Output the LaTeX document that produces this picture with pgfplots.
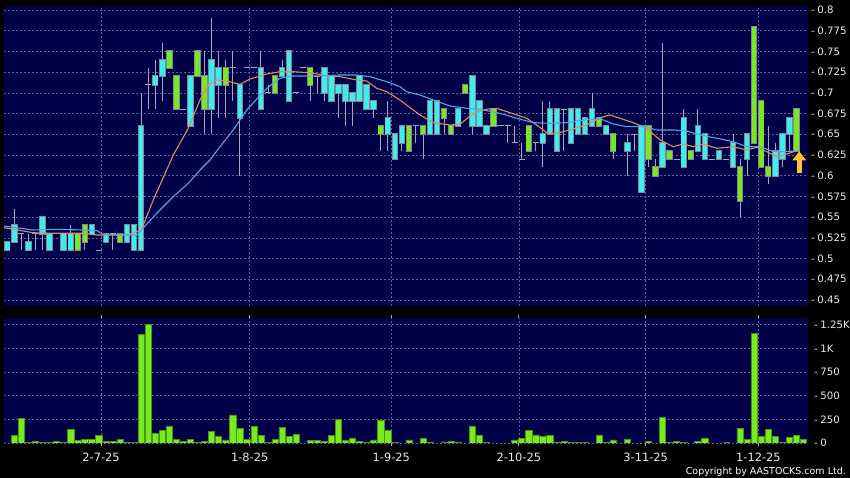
\documentclass[border=0pt]{standalone}
\usepackage{pgfplots}
\pgfplotsset{compat=1.18}
\usepackage{pgfplotstable}
\usepackage{fontspec}
\setmainfont{DejaVu Sans}
\usetikzlibrary{arrows.meta}

\definecolor{navy}{RGB}{0,0,72}
\definecolor{gridc}{RGB}{95,95,150}
\definecolor{cyanb}{RGB}{60,238,238}
\definecolor{greenb}{RGB}{120,232,32}
\definecolor{outl}{RGB}{130,135,150}
\definecolor{wick}{RGB}{165,165,180}
\definecolor{maor}{RGB}{225,140,95}
\definecolor{mabl}{RGB}{80,168,232}
\definecolor{volg}{RGB}{120,235,30}
\definecolor{volo}{RGB}{70,150,20}
\definecolor{arrowy}{RGB}{255,196,40}
\definecolor{lbl}{RGB}{235,235,235}
\definecolor{tickc}{RGB}{170,170,170}

\newcommand{\dl}[1]{-\hspace{2.5bp}#1}
\newcommand{\ylfont}{\fontsize{10.2bp}{12bp}\selectfont}
\newcommand{\xlfont}{\fontsize{11.4bp}{13bp}\selectfont}

% s = trading-day slot, o h l c = open high low close
\pgfplotstableread{
s o h l c
0 0.51 0.52 0.51 0.52
1 0.52 0.56 0.52 0.54
2 0.53 0.53 0.51 0.53
3 0.51 0.53 0.51 0.52
4 0.53 0.53 0.51 0.53
5 0.53 0.55 0.51 0.55
6 0.51 0.53 0.51 0.53
7 0.53 0.53 0.53 0.53
8 0.51 0.53 0.51 0.53
9 0.51 0.54 0.51 0.53
10 0.53 0.53 0.51 0.51
11 0.54 0.54 0.51 0.52
12 0.53 0.54 0.53 0.54
13 0.51 0.51 0.51 0.51
14 0.52 0.53 0.52 0.53
15 0.53 0.53 0.51 0.53
16 0.53 0.53 0.52 0.52
17 0.52 0.54 0.52 0.54
18 0.51 0.54 0.51 0.54
19 0.51 0.70 0.51 0.66
20 0.71 0.73 0.68 0.71
21 0.71 0.74 0.68 0.72
22 0.72 0.76 0.69 0.74
23 0.75 0.75 0.73 0.73
24 0.72 0.72 0.68 0.68
25 0.68 0.68 0.68 0.68
26 0.66 0.72 0.66 0.72
27 0.75 0.75 0.72 0.72
28 0.72 0.75 0.65 0.68
29 0.68 0.79 0.65 0.74
30 0.71 0.75 0.67 0.73
31 0.73 0.74 0.67 0.71
32 0.73 0.75 0.69 0.73
33 0.67 0.71 0.60 0.71
34 0.73 0.73 0.73 0.73
35 0.73 0.73 0.73 0.73
36 0.68 0.75 0.68 0.73
37 0.70 0.71 0.70 0.70
38 0.72 0.72 0.70 0.70
39 0.72 0.74 0.72 0.73
40 0.69 0.75 0.69 0.75
41 0.70 0.70 0.70 0.70
42 0.73 0.73 0.73 0.73
43 0.73 0.73 0.69 0.71
44 0.72 0.72 0.70 0.72
45 0.70 0.73 0.69 0.73
46 0.69 0.72 0.69 0.72
47 0.70 0.71 0.67 0.71
48 0.69 0.71 0.66 0.71
49 0.69 0.70 0.66 0.70
50 0.69 0.72 0.69 0.72
51 0.68 0.71 0.68 0.71
52 0.68 0.69 0.67 0.69
53 0.66 0.66 0.63 0.65
54 0.65 0.69 0.63 0.67
55 0.62 0.65 0.62 0.65
56 0.64 0.66 0.63 0.66
57 0.66 0.66 0.63 0.63
58 0.66 0.66 0.64 0.66
59 0.66 0.66 0.62 0.65
60 0.65 0.69 0.65 0.69
61 0.65 0.69 0.65 0.69
62 0.68 0.68 0.65 0.67
63 0.66 0.66 0.65 0.65
64 0.66 0.68 0.66 0.68
65 0.71 0.71 0.70 0.70
66 0.66 0.72 0.65 0.72
67 0.66 0.69 0.66 0.69
68 0.65 0.66 0.65 0.66
69 0.68 0.68 0.66 0.66
70 0.66 0.66 0.66 0.66
71 0.66 0.66 0.64 0.66
72 0.64 0.66 0.64 0.64
73 0.62 0.64 0.62 0.62
74 0.66 0.66 0.63 0.63
75 0.64 0.64 0.63 0.64
76 0.64 0.69 0.61 0.65
77 0.65 0.69 0.65 0.68
78 0.63 0.68 0.63 0.68
79 0.68 0.68 0.63 0.68
80 0.64 0.68 0.64 0.68
81 0.65 0.68 0.65 0.68
82 0.65 0.67 0.65 0.67
83 0.66 0.70 0.66 0.68
84 0.67 0.67 0.66 0.66
85 0.65 0.66 0.65 0.66
86 0.65 0.65 0.62 0.63
88 0.63 0.65 0.60 0.64
89 0.65 0.65 0.63 0.65
90 0.58 0.66 0.58 0.66
91 0.66 0.66 0.61 0.62
92 0.61 0.62 0.60 0.60
93 0.61 0.76 0.61 0.64
94 0.63 0.63 0.62 0.62
95 0.62 0.62 0.62 0.62
96 0.61 0.68 0.61 0.67
97 0.63 0.63 0.62 0.62
98 0.63 0.68 0.63 0.66
99 0.62 0.65 0.62 0.65
100 0.62 0.62 0.62 0.62
101 0.62 0.63 0.62 0.63
102 0.62 0.62 0.62 0.62
103 0.61 0.65 0.61 0.64
104 0.61 0.62 0.55 0.57
105 0.62 0.65 0.60 0.65
106 0.78 0.78 0.64 0.64
107 0.69 0.69 0.61 0.61
108 0.61 0.66 0.59 0.60
109 0.60 0.64 0.60 0.63
110 0.62 0.65 0.61 0.65
111 0.65 0.67 0.63 0.67
112 0.68 0.68 0.63 0.63
}\candles

\pgfplotstableread{
s v
1 77
2 264
3 10
4 21
5 10
6 7
7 14
8 10
9 141
10 28
11 35
12 35
13 84
14 18
15 21
16 35
17 10
18 4
19 1151
20 1250
21 99
22 130
23 180
24 39
25 14
26 42
27 10
28 21
29 120
30 70
31 32
32 296
33 151
34 35
35 172
36 84
37 10
38 39
39 169
40 67
41 88
43 25
44 25
45 18
46 77
47 246
48 28
49 53
50 21
51 10
52 32
53 236
54 137
55 4
57 32
59 46
60 11
62 11
63 14
64 7
66 180
67 85
68 4
72 32
73 49
74 137
75 85
76 70
77 81
78 11
79 14
80 7
81 7
82 4
84 85
85 11
86 32
88 39
91 21
93 271
94 4
95 21
96 4
98 21
99 53
102 7
104 158
105 42
106 1155
107 67
108 144
109 70
110 4
111 60
112 77
113 35
}\vol

\pgfplotstableread{
s m
-0.47 0.5373
3.65 0.5312
7.05 0.5305
10.74 0.5305
12.73 0.5284
16.99 0.5284
19.02 0.5345
20.72 0.5707
23.56 0.6250
25.69 0.6572
27.35 0.6914
28.53 0.7095
29.72 0.7155
31.14 0.7143
33.03 0.7103
34.45 0.7167
36.82 0.7228
38.70 0.7255
40.59 0.7255
42.96 0.7243
44.85 0.7216
47.22 0.7195
49.59 0.7155
51.01 0.7143
52.43 0.7055
53.85 0.7014
55.73 0.6914
57.62 0.6793
58.57 0.6733
60.46 0.6640
62.83 0.6612
64.25 0.6621
66.14 0.6753
68.04 0.6802
69.46 0.6814
71.35 0.6760
73.72 0.6693
75.13 0.6612
76.55 0.6519
77.97 0.6512
79.86 0.6552
82.23 0.6612
84.12 0.6700
85.54 0.6733
86.96 0.6693
88.85 0.6640
90.75 0.6572
92.64 0.6431
94.52 0.6350
95.94 0.6383
97.36 0.6350
98.78 0.6383
100.68 0.6331
103.04 0.6350
104.94 0.6310
106.36 0.6343
107.78 0.6290
109.20 0.6230
110.62 0.6262
112.27 0.6310
}\mafive

\pgfplotstableread{
s m
-0.47 0.5393
3.65 0.5345
7.05 0.5353
10.74 0.5345
12.73 0.5337
13.58 0.5293
16.99 0.5284
18.40 0.5284
19.02 0.5345
21.20 0.5546
23.56 0.5747
25.69 0.5909
27.35 0.6069
28.77 0.6190
30.19 0.6350
32.07 0.6552
33.98 0.6793
36.82 0.7055
38.70 0.7176
40.59 0.7203
43.91 0.7203
47.22 0.7216
49.59 0.7216
51.47 0.7195
53.85 0.7135
55.73 0.7074
56.68 0.7014
58.57 0.6974
60.46 0.6914
62.83 0.6841
65.20 0.6814
67.56 0.6793
69.93 0.6753
72.30 0.6693
74.65 0.6640
77.02 0.6633
79.39 0.6640
81.75 0.6672
84.12 0.6688
86.01 0.6624
87.91 0.6592
90.27 0.6592
92.17 0.6552
94.52 0.6552
96.42 0.6540
98.31 0.6491
100.68 0.6452
103.04 0.6411
104.94 0.6350
106.83 0.6350
108.72 0.6290
110.62 0.6290
112.27 0.6302
}\maten

\begin{document}
\begin{tikzpicture}
\fill[black] (0,0) rectangle (850bp,478bp);

% ---------------- price panel ----------------
\begin{axis}[
  at={(4bp,172bp)}, anchor=south west, scale only axis,
  width=804bp, height=300bp,
  xmin=-0.468, xmax=113.64, ymin=0.44276, ymax=0.80483,
  axis background/.style={fill=navy},
  axis line style={draw=none},
  major tick length=0pt,
  xtick={13.3,34.4,54.5,72.6,90.6,106.6}, xticklabels={},
  ytick={0.45,0.475,0.5,0.525,0.55,0.575,0.6,0.625,0.65,0.675,0.7,0.725,0.75,0.775,0.8},
  yticklabels={\dl{0.45},\dl{0.475},\dl{0.5},\dl{0.525},\dl{0.55},\dl{0.575},\dl{0.6},\dl{0.625},\dl{0.65},\dl{0.675},\dl{0.7},\dl{0.725},\dl{0.75},\dl{0.775},\dl{0.8}},
  yticklabel pos=right,
  yticklabel style={anchor=west, inner sep=0pt, xshift=3bp, font=\ylfont, text=lbl},
  grid=major,
  major grid style={draw=gridc, line width=0.6bp, dash pattern=on 2bp off 2bp},
]
% wicks
\addplot[draw=none, forget plot,
  error bars/.cd, y dir=minus, y explicit, error mark=none,
  error bar style={draw=wick, line width=1bp}]
  table[x=s, y=h, y error minus expr=\thisrow{h}-\thisrow{l}] {\candles};
% flat candles (open = close)
\addplot[draw=none, forget plot,
  restrict expr to domain={abs(\thisrow{c}-\thisrow{o})}{-1:0.001},
  error bars/.cd, x dir=both, x fixed=0.43, error mark=none,
  error bar style={draw=wick, line width=1bp}]
  table[x=s, y=c] {\candles};
% up candles: outline then fill
\addplot[draw=none, forget plot,
  restrict expr to domain={\thisrow{c}-\thisrow{o}}{0.001:1},
  error bars/.cd, y dir=minus, y explicit, error mark=none,
  error bar style={draw=outl, line width=6.4bp}]
  table[x=s, y expr=\thisrow{c}+0.0012, y error minus expr=\thisrow{c}-\thisrow{o}+0.0024] {\candles};
\addplot[draw=none, forget plot,
  restrict expr to domain={\thisrow{c}-\thisrow{o}}{0.001:1},
  error bars/.cd, y dir=minus, y explicit, error mark=none,
  error bar style={draw=cyanb, line width=4.6bp}]
  table[x=s, y=c, y error minus expr=\thisrow{c}-\thisrow{o}] {\candles};
% down candles
\addplot[draw=none, forget plot,
  restrict expr to domain={\thisrow{o}-\thisrow{c}}{0.001:1},
  error bars/.cd, y dir=minus, y explicit, error mark=none,
  error bar style={draw=outl, line width=6.4bp}]
  table[x=s, y expr=\thisrow{o}+0.0012, y error minus expr=\thisrow{o}-\thisrow{c}+0.0024] {\candles};
\addplot[draw=none, forget plot,
  restrict expr to domain={\thisrow{o}-\thisrow{c}}{0.001:1},
  error bars/.cd, y dir=minus, y explicit, error mark=none,
  error bar style={draw=greenb, line width=4.6bp}]
  table[x=s, y=o, y error minus expr=\thisrow{o}-\thisrow{c}] {\candles};
% moving averages
\addplot[draw=maor, line width=1.1bp, mark=none] table[x=s, y=m] {\mafive};
\addplot[draw=mabl, line width=1.1bp, mark=none] table[x=s, y=m] {\maten};
% last-price arrow
\addplot[draw=arrowy, line width=5bp, mark=none, -{Triangle[width=13bp,length=9bp]}]
  coordinates {(112.4,0.603) (112.4,0.6295)};
\end{axis}

% ---------------- volume panel ----------------
\begin{axis}[
  at={(4bp,35bp)}, anchor=south west, scale only axis,
  width=804bp, height=125bp,
  xmin=-0.468, xmax=113.64, ymin=0, ymax=1321,
  axis background/.style={fill=navy},
  axis line style={draw=none},
  tick align=outside, major tick length=3bp,
  xtick={13.3,34.4,54.5,72.6,90.6,106.6},
  xticklabels={2-7-25,1-8-25,1-9-25,2-10-25,3-11-25,1-12-25},
  xtick style={draw=tickc, line width=0.7bp},
  ytick={0,250,500,750,1000,1250},
  yticklabels={\dl{0},\dl{250},\dl{500},\dl{750},\dl{1K},\dl{1.25K}},
  ytick style={draw=none},
  scaled y ticks=false,
  yticklabel pos=right,
  yticklabel style={anchor=west, inner sep=0pt, xshift=3bp, font=\ylfont, text=lbl},
  xticklabel style={anchor=north, inner sep=0pt, yshift=-7bp, font=\xlfont, text=lbl},
  grid=major,
  major grid style={draw=gridc, line width=0.6bp, dash pattern=on 2bp off 2bp},
]
\addplot[ybar, bar width=6.2bp, bar shift=0pt, fill=volg, draw=volo, line width=0.6bp]
  table[x=s, y=v] {\vol};
\end{axis}

\node[anchor=base east, inner sep=0pt, text=white, font=\fontsize{9.5bp}{11bp}\selectfont]
  at (846bp,4bp) {Copyright by AASTOCKS.com Ltd.};

\pgfresetboundingbox
\path[use as bounding box] (0,0) rectangle (850bp,478bp);
\end{tikzpicture}
\end{document}
